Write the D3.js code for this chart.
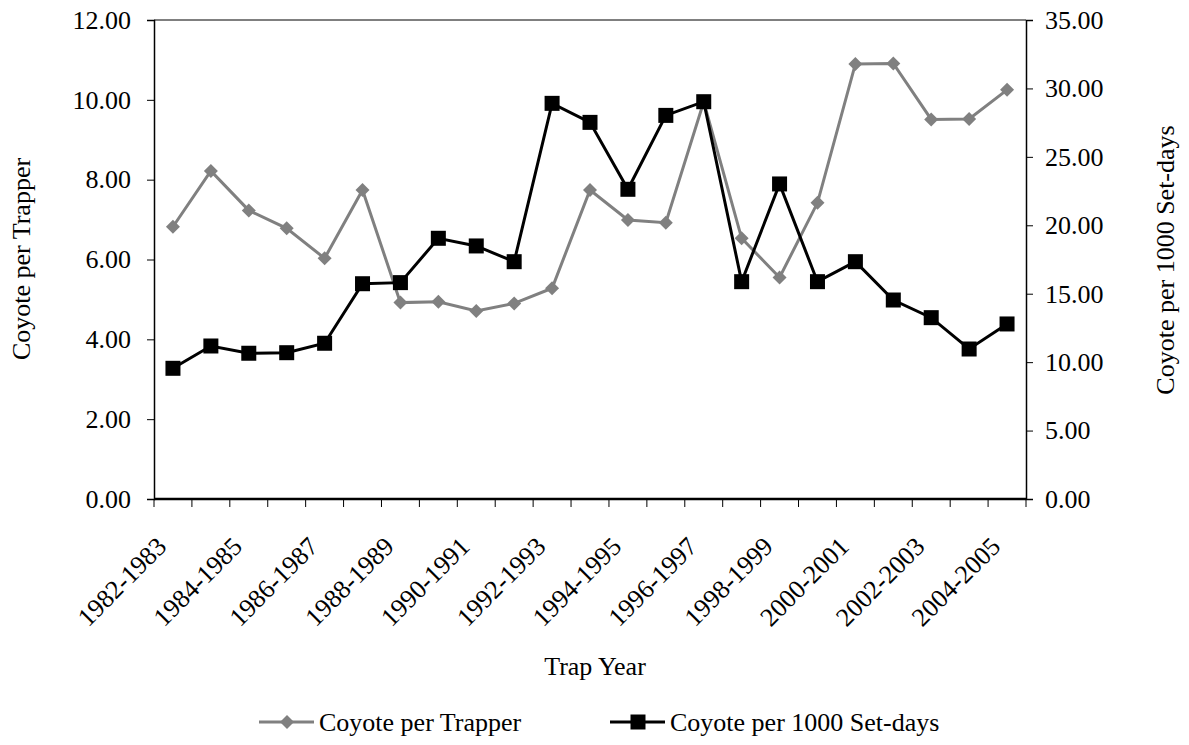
<!DOCTYPE html>
<html>
<head>
<meta charset="utf-8">
<script src="https://cdn.jsdelivr.net/npm/d3@7"></script>
<style>
  body { margin: 0; background: #fff; }
  text { font-family: "Liberation Serif", "Times New Roman", serif; fill: #000; }
</style>
</head>
<body>
<script>
// trap years (one per category)
var years = ["1982-1983","1983-1984","1984-1985","1985-1986","1986-1987","1987-1988",
  "1988-1989","1989-1990","1990-1991","1991-1992","1992-1993","1993-1994","1994-1995",
  "1995-1996","1996-1997","1997-1998","1998-1999","1999-2000","2000-2001","2001-2002",
  "2002-2003","2003-2004","2004-2005"];

// coyote per trapper (left axis)
var perTrapper = [6.82, 8.22, 7.23, 6.78, 6.03, 7.74, 4.92, 4.94, 4.71, 4.90, 5.28, 7.74,
  6.99, 6.92, 9.95, 6.53, 5.55, 7.42, 10.90, 10.91, 9.51, 9.52, 10.25];

// coyote per 1000 set-days (right axis)
var perSetDays = [9.55, 11.18, 10.65, 10.69, 11.38, 15.73, 15.81, 19.05, 18.49, 17.34, 28.91,
  27.52, 22.63, 28.03, 29.03, 15.88, 23.02, 15.88, 17.34, 14.54, 13.25, 10.96, 12.79];

var leftTicks = [0, 2, 4, 6, 8, 10, 12];
var rightTicks = [0, 5, 10, 15, 20, 25, 30, 35];

var W = 1189, H = 745;
var margin = {top: 20, right: 163, bottom: 246, left: 154},
    width = W - margin.left - margin.right,
    height = H - margin.top - margin.bottom;

var svg = d3.select("body").append("svg")
    .attr("width", W)
    .attr("height", H);

var g = svg.append("g")
    .attr("transform", "translate(" + margin.left + "," + margin.top + ")");

var x = d3.scaleBand().domain(years).range([0, width]);
var yL = d3.scaleLinear().domain([0, 12]).range([height, 0]);
var yR = d3.scaleLinear().domain([0, 35]).range([height, 0]);
var fmt = d3.format(".2f");

// top border of plot area
g.append("line").attr("x1", 0).attr("x2", width).attr("y1", 0).attr("y2", 0)
    .attr("stroke", "#000").attr("stroke-width", 1);

// left axis
var axL = g.append("g")
    .call(d3.axisLeft(yL).tickValues(leftTicks).tickFormat(fmt).tickSizeOuter(0).tickSize(7).tickPadding(16));
// right axis
var axR = g.append("g")
    .attr("transform", "translate(" + width + ",0)")
    .call(d3.axisRight(yR).tickValues(rightTicks).tickFormat(fmt).tickSizeOuter(0).tickSize(7).tickPadding(12));

[axL, axR].forEach(function(a) {
  a.select(".domain").attr("stroke", "#000").attr("stroke-width", 1.5);
  a.selectAll("line").attr("stroke", "#000");
  a.selectAll("text").style("font-size", "26px").attr("font-family", null);
});

// bottom axis: ticks on category boundaries
var xb = g.append("g").attr("transform", "translate(0," + height + ")");
xb.append("line").attr("x1", 0).attr("x2", width)
    .attr("stroke", "#000").attr("stroke-width", 2.5);
xb.selectAll(".xt")
    .data(years.concat(["end"]))
  .enter().append("line")
    .attr("x1", function(d, i) { return i * x.step(); })
    .attr("x2", function(d, i) { return i * x.step(); })
    .attr("y1", 0).attr("y2", 8)
    .attr("stroke", "#000");
xb.selectAll(".xl")
    .data(years.filter(function(d, i) { return i % 2 === 0; }))
  .enter().append("text")
    .attr("transform", function(d) {
      return "translate(" + (x(d) + x.bandwidth() / 2 - 5) + ",49) rotate(-45)"; })
    .attr("text-anchor", "end")
    .style("font-size", "26px")
    .text(function(d) { return d; });

// lines
var cx = function(i) { return x(years[i]) + x.bandwidth() / 2; };

var lineL = d3.line().x(function(d, i) { return cx(i); }).y(function(d) { return yL(d); });
var lineR = d3.line().x(function(d, i) { return cx(i); }).y(function(d) { return yR(d); });

g.append("path").datum(perTrapper)
    .attr("d", lineL).attr("fill", "none")
    .attr("stroke", "#808080").attr("stroke-width", 3);
g.selectAll(".dia").data(perTrapper)
  .enter().append("path")
    .attr("d", d3.symbol().type(d3.symbolSquare).size(98))
    .attr("transform", function(d, i) { return "translate(" + cx(i) + "," + yL(d) + ") rotate(45)"; })
    .attr("fill", "#808080");

g.append("path").datum(perSetDays)
    .attr("d", lineR).attr("fill", "none")
    .attr("stroke", "#000").attr("stroke-width", 3);
g.selectAll(".sq").data(perSetDays)
  .enter().append("rect")
    .attr("x", function(d, i) { return cx(i) - 7.5; })
    .attr("y", function(d) { return yR(d) - 7.5; })
    .attr("width", 15).attr("height", 15)
    .attr("fill", "#000");

// axis titles
svg.append("text")
    .attr("transform", "translate(30,259) rotate(-90)")
    .attr("text-anchor", "middle")
    .style("font-size", "26px")
    .text("Coyote per Trapper");
svg.append("text")
    .attr("transform", "translate(1174,260) rotate(-90)")
    .attr("text-anchor", "middle")
    .style("font-size", "26px")
    .text("Coyote per 1000 Set-days");
svg.append("text")
    .attr("x", 595).attr("y", 675)
    .attr("text-anchor", "middle")
    .style("font-size", "26px")
    .text("Trap Year");

// legend
var legend = [
  {name: "Coyote per Trapper", color: "#808080", shape: "diamond", x: 259},
  {name: "Coyote per 1000 Set-days", color: "#000", shape: "square", x: 610}
];
var lg = svg.selectAll(".lg").data(legend).enter().append("g")
    .attr("transform", function(d) { return "translate(" + d.x + ",722)"; });
lg.append("line").attr("x1", 0).attr("x2", 55)
    .attr("stroke", function(d) { return d.color; }).attr("stroke-width", 3);
lg.append("path")
    .attr("d", function(d) {
      return d3.symbol().type(d3.symbolSquare).size(d.shape === "square" ? 225 : 98)(); })
    .attr("transform", function(d) {
      return "translate(28,0)" + (d.shape === "diamond" ? " rotate(45)" : ""); })
    .attr("fill", function(d) { return d.color; });
lg.append("text")
    .attr("x", 60).attr("dy", "0.35em")
    .style("font-size", "26px")
    .text(function(d) { return d.name; });
</script>
</body>
</html>
